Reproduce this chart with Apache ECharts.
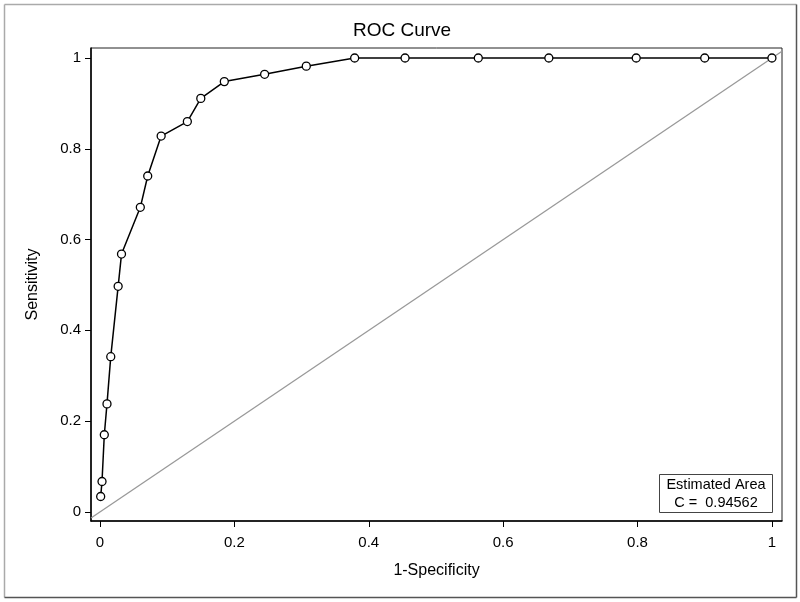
<!DOCTYPE html>
<html>
<head>
<meta charset="utf-8">
<script src="https://cdn.jsdelivr.net/npm/echarts@6/dist/echarts.min.js"></script>
<style>html,body{margin:0;padding:0;background:#fff;}#c{width:800px;height:602px;}</style>
</head>
<body>
<div id="c"></div>
<script>
const fpr = [0.001,0.003,0.0064,0.0104,0.016,0.027,0.032,0.060,0.071,0.091,0.130,0.150,0.185,0.245,0.307,0.379,0.454,0.563,0.668,0.798,0.900,1.0];
const tpr = [0.034,0.067,0.170,0.238,0.342,0.497,0.568,0.671,0.740,0.828,0.860,0.911,0.948,0.964,0.982,1,1,1,1,1,1,1];
const tickValues = [0,0.2,0.4,0.6,0.8,1];
const tickLabels = ['0','0.2','0.4','0.6','0.8','1'];
const xRange = [-0.0134, 1.015];
const yRange = [-0.02, 1.022];
const areaC = '0.94562';

const rocData = fpr.map((x,i)=>[x,tpr[i]]);
const diag = [[xRange[0],xRange[0]],[xRange[1],xRange[1]]];
const lab = v => tickLabels[tickValues.indexOf(v)] ?? String(v);
const font = 'Liberation Sans, Arial, sans-serif';

const chart = echarts.init(document.getElementById('c'), null, {renderer:'canvas'});
chart.setOption({
  animation:false,
  backgroundColor:'#fff',
  grid:{left:91, top:48, right:18, bottom:81, show:true, borderColor:'#222', borderWidth:1, backgroundColor:'transparent'},
  xAxis:{type:'value', min:xRange[0], max:xRange[1], name:'1-Specificity', nameLocation:'middle', nameGap:42,
    nameTextStyle:{fontFamily:font, fontSize:16, color:'#000'},
    axisLine:{show:true, onZero:false, lineStyle:{color:'#000', width:1.5}},
    axisTick:{show:true, length:6, lineStyle:{color:'#000'}, customValues:tickValues},
    axisLabel:{fontFamily:font, fontSize:15, color:'#000', margin:14, customValues:tickValues, formatter:lab},
    splitLine:{show:false}},
  yAxis:{type:'value', min:yRange[0], max:yRange[1], name:'Sensitivity', nameLocation:'middle', nameGap:50,
    nameTextStyle:{fontFamily:font, fontSize:16, color:'#000'},
    axisLine:{show:true, onZero:false, lineStyle:{color:'#000', width:1.5}},
    axisTick:{show:true, length:6, lineStyle:{color:'#000'}, customValues:tickValues},
    axisLabel:{fontFamily:font, fontSize:15, color:'#000', margin:10, customValues:tickValues, formatter:lab},
    splitLine:{show:false}},
  series:[
    {type:'line', data:diag, symbol:'none', silent:true, lineStyle:{color:'#999', width:1.3}, z:1},
    {type:'line', data:rocData, symbol:'circle', symbolSize:8, showAllSymbol:true,
      lineStyle:{color:'#000', width:1.5},
      itemStyle:{color:'#fff', borderColor:'#000', borderWidth:1.3}, z:3}
  ],
  graphic:[
    {type:'text', x:402, y:31, style:{text:'ROC Curve', align:'center', verticalAlign:'middle', font:'19px '+font, fill:'#000'}},
    {type:'line', shape:{x1:4.5,y1:4.5,x2:796.5,y2:4.5}, style:{stroke:'#aaa', lineWidth:1.5}},
    {type:'line', shape:{x1:4.5,y1:4.5,x2:4.5,y2:597.5}, style:{stroke:'#aaa', lineWidth:1.5}},
    {type:'line', shape:{x1:796.5,y1:4.5,x2:796.5,y2:597.5}, style:{stroke:'#555', lineWidth:1.5}},
    {type:'line', shape:{x1:4.5,y1:597.5,x2:796.5,y2:597.5}, style:{stroke:'#555', lineWidth:1.5}},
    {type:'rect', shape:{x:659.5,y:474.5,width:113,height:38}, style:{fill:'#fff', stroke:'#444', lineWidth:1}, z:10},
    {type:'text', x:716, y:484.5, style:{text:'Estimated Area', align:'center', verticalAlign:'middle', font:'14.5px '+font, fill:'#000'}, z:11},
    {type:'text', x:716, y:502.5, style:{text:'C =  '+areaC, align:'center', verticalAlign:'middle', font:'14.5px '+font, fill:'#000'}, z:11}
  ]
});
</script>
</body>
</html>
